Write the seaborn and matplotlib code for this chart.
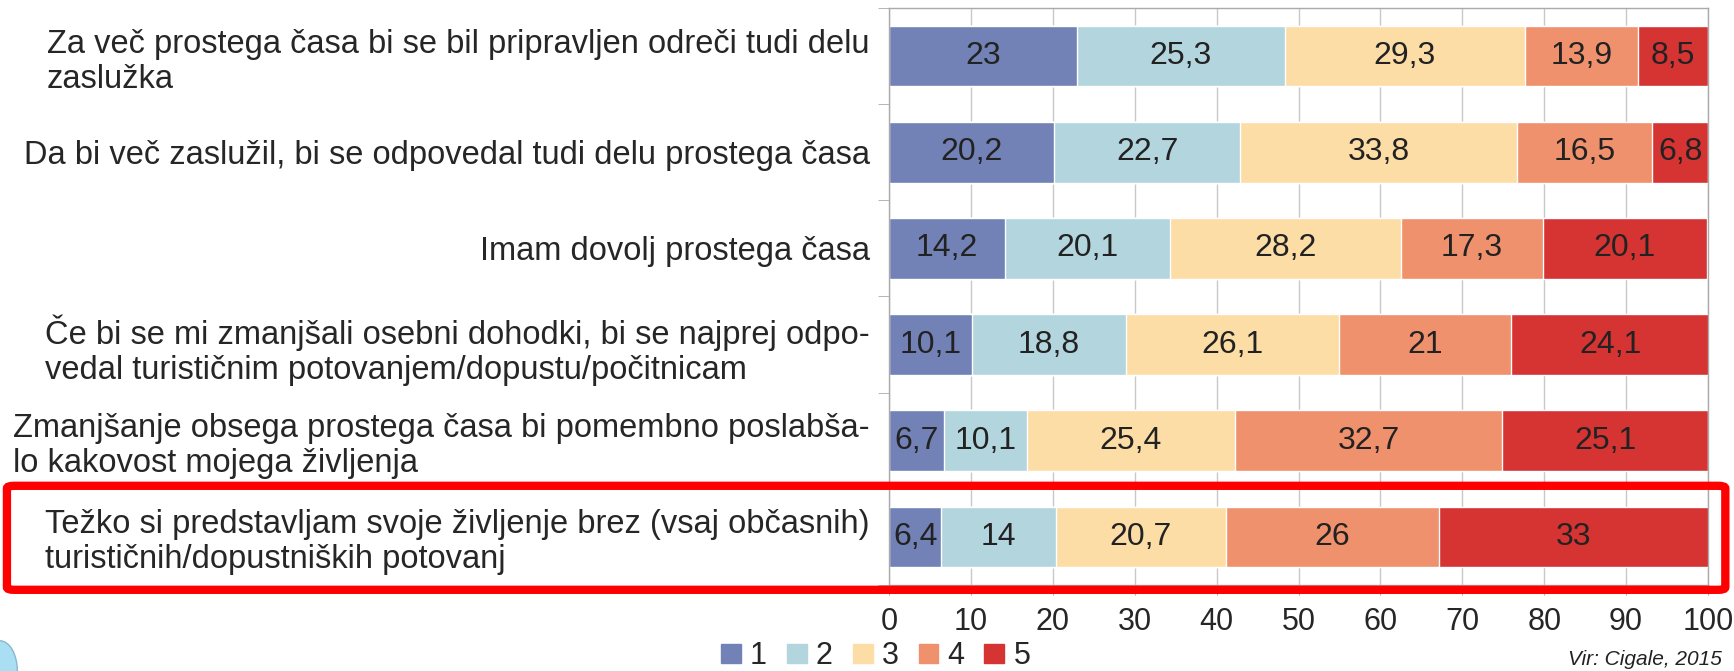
import matplotlib
matplotlib.use("Agg")
import matplotlib.pyplot as plt
import matplotlib.patches as mpatches
import seaborn as sns
import pandas as pd
import numpy as np

# survey statements (top to bottom)
statements = [
    "Za več prostega časa bi se bil pripravljen odreči tudi delu\nzaslužka",
    "Da bi več zaslužil, bi se odpovedal tudi delu prostega časa",
    "Imam dovolj prostega časa",
    "Če bi se mi zmanjšali osebni dohodki, bi se najprej odpo-\nvedal turističnim potovanjem/dopustu/počitnicam",
    "Zmanjšanje obsega prostega časa bi pomembno poslabša-\nlo kakovost mojega življenja",
    "Težko si predstavljam svoje življenje brez (vsaj občasnih)\nturističnih/dopustniških potovanj",
]
levels = ["1", "2", "3", "4", "5"]
share_1 = [23, 20.2, 14.2, 10.1, 6.7, 6.4]
share_2 = [25.3, 22.7, 20.1, 18.8, 10.1, 14]
share_3 = [29.3, 33.8, 28.2, 26.1, 25.4, 20.7]
share_4 = [13.9, 16.5, 17.3, 21, 32.7, 26]
share_5 = [8.5, 6.8, 20.1, 24.1, 25.1, 33]
colors = ["#7282b6", "#b3d5de", "#fddda6", "#f0916d", "#d63333"]
source_note = "Vir: Cigale, 2015"

df = pd.DataFrame({"trditev": statements, "1": share_1, "2": share_2,
                   "3": share_3, "4": share_4, "5": share_5})
cum = df[levels].cumsum(axis=1)

sns.set_style("white")
plt.rcParams["font.family"] = ["Liberation Sans", "DejaVu Sans"]

fig = plt.figure(figsize=(17.34, 6.71), dpi=100)
ax = fig.add_axes([0.5127, 0.1282, 0.4723, 0.8599])

# stacked bars: draw cumulative totals from the last level back to the first
for lev, col in reversed(list(zip(levels, colors))):
    sns.barplot(x=cum[lev], y=df["trditev"], color=col, orient="h",
                width=0.63, saturation=1, ax=ax, zorder=2)

def fmt(v):
    return f"{v:g}".replace(".", ",")

for i in range(len(df)):
    for lev in levels:
        v = df.loc[i, lev]
        ax.text(cum.loc[i, lev] - v / 2, i, fmt(v), ha="center", va="center",
                fontsize=23, color="#222222", zorder=3)

ax.set_xlim(0, 100)
ax.set_ylim(len(df) - 0.5, -0.5)
ax.set_xticks(range(0, 101, 10))
ax.set_xlabel("")
ax.set_ylabel("")
ax.tick_params(axis="x", labelsize=22, length=7, color="#aaaaaa", pad=9,
               direction="out", bottom=True)
ax.tick_params(axis="y", which="major", length=0, pad=14, labelsize=23.5)
ax.set_yticks(np.arange(-0.5, len(df), 1), minor=True)
ax.tick_params(axis="y", which="minor", length=8, color="#aaaaaa", left=True)
for lab in ax.get_yticklabels():
    lab.set_multialignment("left")
    lab.set_linespacing(1.17)
ax.grid(axis="x", color="#c8c8c8", linewidth=1, zorder=0)
ax.set_axisbelow(True)
for side in ["top", "right", "left", "bottom"]:
    ax.spines[side].set_visible(True)
    ax.spines[side].set_color("#aaaaaa")
    ax.spines[side].set_linewidth(1)

# legend below the axis
handles = [mpatches.Rectangle((0, 0), 1, 1, color=c) for c in colors]
fig.legend(handles, levels, loc="center", bbox_to_anchor=(0.505, 0.022),
           ncol=5, frameon=False, fontsize=22, handlelength=0.65,
           handleheight=0.6, handletextpad=0.3, columnspacing=0.65,
           borderpad=0.1)

fig.text(0.993, 0.003, source_note, ha="right", va="bottom", fontsize=15,
         style="italic", color="#222222")

# piece of a logo at the lower-left corner
fig.patches.append(mpatches.Ellipse((0.0, 0.0), 0.02, 0.09,
                                    transform=fig.transFigure,
                                    facecolor="#a9def3", edgecolor="#8ab8cc",
                                    linewidth=1))

# highlight frame around the last statement
box = mpatches.FancyBboxPatch((0.004, 0.121), 0.991, 0.155,
                              boxstyle="round,pad=0,rounding_size=0.004",
                              transform=fig.transFigure, fill=False,
                              edgecolor="#ff0000", linewidth=6, zorder=10)
fig.patches.append(box)

fig.savefig("out.png", dpi=100)
